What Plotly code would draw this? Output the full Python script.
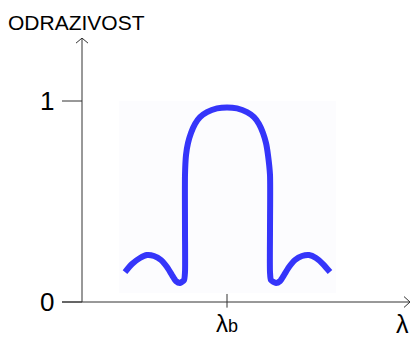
import plotly.graph_objects as go

# Reflectance curve (x: wavelength offset from lambda_b, y: reflectance)
wl = [-1.02, -0.95, -0.87, -0.80, -0.73, -0.66, -0.60, -0.55, -0.51, -0.47, -0.43,
      -0.42, -0.42, -0.42, -0.41, -0.39, -0.36, -0.32, -0.27, -0.20, -0.10, 0.00,
      0.10, 0.20, 0.27, 0.32, 0.36, 0.39, 0.41, 0.43, 0.43, 0.43, 0.44, 0.49,
      0.53, 0.57, 0.62, 0.68, 0.75, 0.82, 0.89, 0.96, 1.03]
refl = [0.149, 0.189, 0.219, 0.234, 0.229, 0.209, 0.174, 0.134, 0.104, 0.095, 0.109,
        0.149, 0.358, 0.632, 0.731, 0.791, 0.841, 0.886, 0.920, 0.945, 0.963, 0.968,
        0.963, 0.945, 0.920, 0.886, 0.841, 0.791, 0.731, 0.632, 0.358, 0.149, 0.109,
        0.095, 0.104, 0.134, 0.174, 0.209, 0.229, 0.234, 0.219, 0.189, 0.149]

y_ticks = [0, 1]
y_tick_labels = ["0", "1"]
x_tick = 0.0
x_tick_label = "λ<span style='font-size:18px'>b</span>"
x_title = "λ"
y_title = "ODRAZIVOST"

FONT = "Arial, Liberation Sans, sans-serif"
AX = "#333333"
x_axis_pos = -1.45   # where the vertical axis sits
x_left, x_right = -1.65, 1.83
y_top = 1.313

fig = go.Figure()
fig.add_trace(go.Scatter(x=wl, y=refl, mode="lines",
                         line=dict(color="#3535fa", width=6, shape="spline", smoothing=0.6),
                         hoverinfo="skip", showlegend=False))

shapes = [
    dict(type="rect", x0=-1.08, x1=1.09, y0=0.045, y1=1.0, fillcolor="#fcfcfe",
         line=dict(width=0), layer="below"),
    dict(type="line", x0=x_axis_pos, x1=x_axis_pos, y0=0, y1=y_top, line=dict(color=AX, width=1)),
    dict(type="line", x0=x_left, x1=x_right, y0=0, y1=0, line=dict(color=AX, width=1)),
    dict(type="path", path=f"M {x_axis_pos-0.06},{y_top-0.025} L {x_axis_pos},{y_top} L {x_axis_pos+0.06},{y_top-0.025}",
         line=dict(color=AX, width=1)),
    dict(type="path", path=f"M {x_right-0.06},0.027 L {x_right},0 L {x_right-0.06},-0.027",
         line=dict(color=AX, width=1)),
    dict(type="line", x0=x_tick, x1=x_tick, y0=0.04, y1=-0.028, line=dict(color=AX, width=1)),
]
for yt in y_ticks:
    shapes.append(dict(type="line", x0=x_left, x1=x_axis_pos, y0=yt, y1=yt,
                       line=dict(color=AX, width=1)))

annotations = []
for yt, lab in zip(y_ticks, y_tick_labels):
    annotations.append(dict(x=-1.80, y=yt, text=lab, showarrow=False, xanchor="center",
                            yanchor="middle", font=dict(family=FONT, size=26, color="black")))
annotations.append(dict(x=x_tick, y=-0.108, text=x_tick_label, showarrow=False,
                        xanchor="center", yanchor="middle",
                        font=dict(family=FONT, size=24, color="black")))
annotations.append(dict(x=1.75, y=-0.108, text=x_title, showarrow=False,
                        xanchor="center", yanchor="middle",
                        font=dict(family=FONT, size=25, color="black")))
annotations.append(dict(x=-2.21, y=1.393, text=y_title, showarrow=False,
                        xanchor="left", yanchor="middle",
                        font=dict(family=FONT, size=21, color="black")))

fig.update_layout(
    width=411, height=338, margin=dict(l=0, r=0, t=0, b=0),
    paper_bgcolor="white", plot_bgcolor="white",
    xaxis=dict(range=[-2.27, 1.84], visible=False, fixedrange=True),
    yaxis=dict(range=[-0.1791, 1.5025], visible=False, fixedrange=True),
    shapes=shapes, annotations=annotations, showlegend=False,
)
fig.write_html("out.html")
